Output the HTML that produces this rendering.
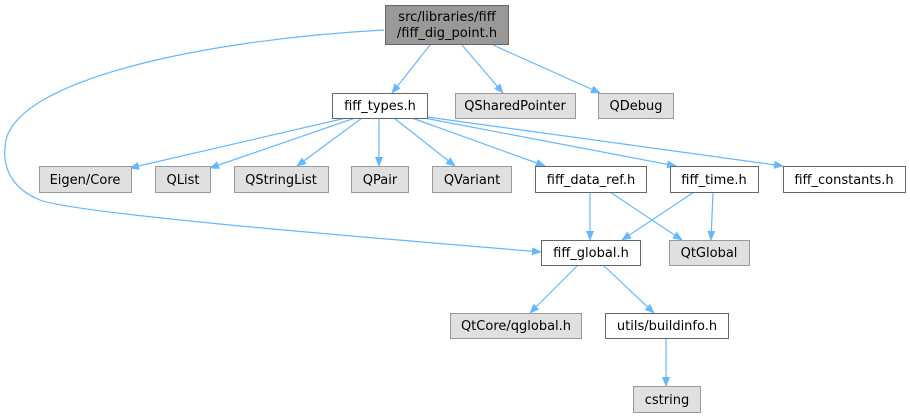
<!DOCTYPE html>
<html><head><meta charset="utf-8"><style>
html,body{margin:0;padding:0;background:#fff;width:910px;height:417px;overflow:hidden}
text{font-family:"DejaVu Sans","Liberation Sans",sans-serif;font-size:13px;fill:#000}
</style></head><body>
<svg width="910" height="417" viewBox="0 0 910 417" xmlns="http://www.w3.org/2000/svg">
<defs><marker id="a" markerWidth="10" markerHeight="8" refX="9" refY="4" orient="auto" markerUnits="userSpaceOnUse"><path d="M0,0 L10,4 L0,8 z" fill="#63b8ff"/></marker></defs>
<g fill="none" stroke="#63b8ff" stroke-width="1.2" marker-end="url(#a)">
<path d="M430,45 L392,93"/>
<path d="M462,45 L503,93"/>
<path d="M493,45 L600,93"/>
<path d="M384,30 C200,40 20,80 6,140 C0,170 15,190 40,200 C80,215 400,240 541,252"/>
<path d="M346,118 L130,168"/>
<path d="M355,118 L210,168"/>
<path d="M362,118 L297,166"/>
<path d="M379,118 L379,166"/>
<path d="M394,118 L455,166"/>
<path d="M412,118 L545,166"/>
<path d="M424,118 L676,166"/>
<path d="M427,117 L783,166"/>
<path d="M590,192 L590,240"/>
<path d="M610,192 L682,240"/>
<path d="M694,192 L622,240"/>
<path d="M713,192 L711,240"/>
<path d="M578,265 L530,313"/>
<path d="M603,265 L654,313"/>
<path d="M666,338 L666,386"/>
</g>
<g stroke-width="1">
<rect x="385.5" y="5.5" width="123" height="39" fill="#999" stroke="#666"/>
<rect x="332.5" y="93.5" width="95" height="25" fill="#fff" stroke="#666"/>
<rect x="455.5" y="93.5" width="120" height="25" fill="#e0e0e0" stroke="#999"/>
<rect x="598.5" y="93.5" width="75" height="25" fill="#e0e0e0" stroke="#999"/>
<rect x="39.5" y="166.5" width="92" height="26" fill="#e0e0e0" stroke="#999"/>
<rect x="155.5" y="166.5" width="55" height="26" fill="#e0e0e0" stroke="#999"/>
<rect x="234.5" y="166.5" width="94" height="26" fill="#e0e0e0" stroke="#999"/>
<rect x="351.5" y="166.5" width="57" height="26" fill="#e0e0e0" stroke="#999"/>
<rect x="432.5" y="166.5" width="79" height="26" fill="#e0e0e0" stroke="#999"/>
<rect x="535.5" y="166.5" width="111" height="26" fill="#fff" stroke="#666"/>
<rect x="670.5" y="166.5" width="88" height="26" fill="#fff" stroke="#666"/>
<rect x="783.5" y="166.5" width="122" height="26" fill="#fff" stroke="#666"/>
<rect x="541.5" y="240.5" width="99" height="25" fill="#fff" stroke="#666"/>
<rect x="669.5" y="240.5" width="80" height="25" fill="#e0e0e0" stroke="#999"/>
<rect x="450.5" y="313.5" width="131" height="25" fill="#e0e0e0" stroke="#999"/>
<rect x="605.5" y="313.5" width="123" height="25" fill="#fff" stroke="#666"/>
<rect x="633.5" y="386.5" width="67" height="26" fill="#e0e0e0" stroke="#999"/>
</g>
<g text-anchor="middle">
<text x="447" y="21">src/libraries/fiff</text>
<text x="447" y="37">/fiff_dig_point.h</text>
<text x="380" y="110">fiff_types.h</text>
<text x="515" y="110">QSharedPointer</text>
<text x="636" y="110">QDebug</text>
<text x="85" y="184">Eigen/Core</text>
<text x="183" y="184">QList</text>
<text x="281" y="184">QStringList</text>
<text x="380" y="184">QPair</text>
<text x="472" y="184">QVariant</text>
<text x="591" y="184">fiff_data_ref.h</text>
<text x="714" y="184">fiff_time.h</text>
<text x="844" y="184">fiff_constants.h</text>
<text x="591" y="257">fiff_global.h</text>
<text x="709" y="257">QtGlobal</text>
<text x="516" y="330">QtCore/qglobal.h</text>
<text x="667" y="330">utils/buildinfo.h</text>
<text x="667" y="404">cstring</text>
</g>
</svg>
</body></html>
